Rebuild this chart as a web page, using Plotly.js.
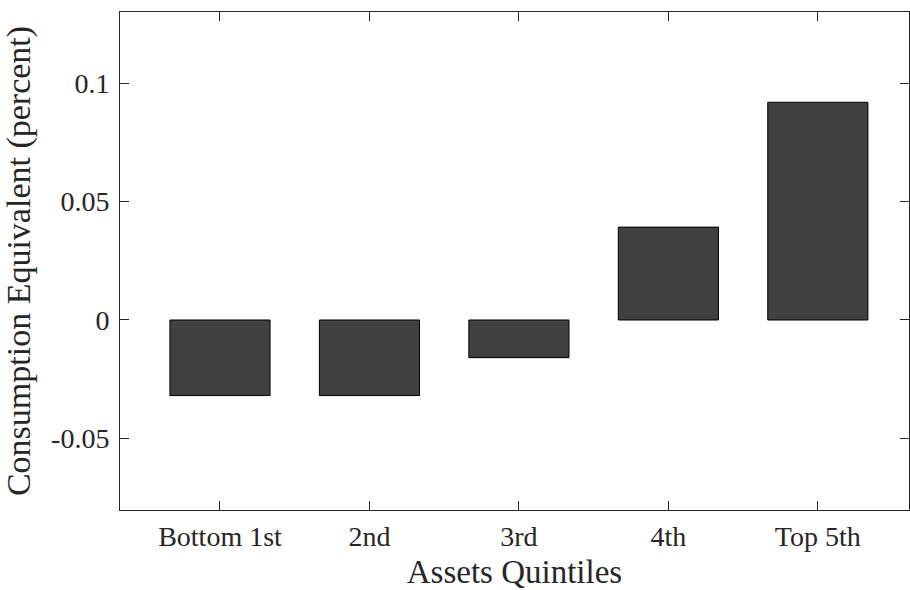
<!DOCTYPE html>
<html>
<head>
<meta charset="utf-8">
<script src="https://cdn.plot.ly/plotly-3.0.1.min.js"></script>
<style>html,body{margin:0;padding:0;background:#fff;}#chart{width:910px;height:590px;}</style>
</head>
<body>
<div id="chart"></div>
<script>
const categories = ["Bottom 1st", "2nd", "3rd", "4th", "Top 5th"];
const values = [-0.0319, -0.0319, -0.0159, 0.0392, 0.0919];
const yTickVals = [-0.05, 0, 0.05, 0.1];
const yTickText = ["-0.05", "0", "0.05", "0.1"];

const font = "Liberation Serif, Times New Roman, serif";
const axisColor = "#262626";

const trace = {
  type: "bar",
  x: categories,
  y: values,
  width: 0.67,
  marker: { color: "#404040", line: { color: "#000000", width: 1 } },
  hoverinfo: "none"
};

const layout = {
  width: 910, height: 590,
  margin: { l: 120, r: 1, t: 12, b: 80 },
  paper_bgcolor: "#ffffff", plot_bgcolor: "#ffffff",
  showlegend: false,
  font: { family: font, color: axisColor, size: 28 },
  xaxis: {
    type: "category",
    range: [-0.669, 4.61],
    showline: true, linecolor: axisColor, linewidth: 1, mirror: "allticks",
    ticks: "inside", ticklen: 9, tickcolor: axisColor, tickwidth: 1,
    showgrid: false, zeroline: false,
    tickfont: { family: font, size: 28, color: axisColor },
    ticklabelstandoff: 1,
    title: { text: "Assets Quintiles", font: { family: font, size: 33, color: axisColor }, standoff: 12 }
  },
  yaxis: {
    range: [-0.0802, 0.13],
    tickvals: yTickVals, ticktext: yTickText,
    showline: true, linecolor: axisColor, linewidth: 1, mirror: "allticks",
    ticks: "inside", ticklen: 9, tickcolor: axisColor, tickwidth: 1,
    showgrid: false, zeroline: false,
    tickfont: { family: font, size: 28, color: axisColor },
    ticklabelstandoff: 4,
    title: { text: "Consumption Equivalent (percent)", font: { family: font, size: 34, color: axisColor }, standoff: 11 }
  }
};

Plotly.newPlot("chart", [trace], layout, { staticPlot: true, displayModeBar: false });
</script>
</body>
</html>
